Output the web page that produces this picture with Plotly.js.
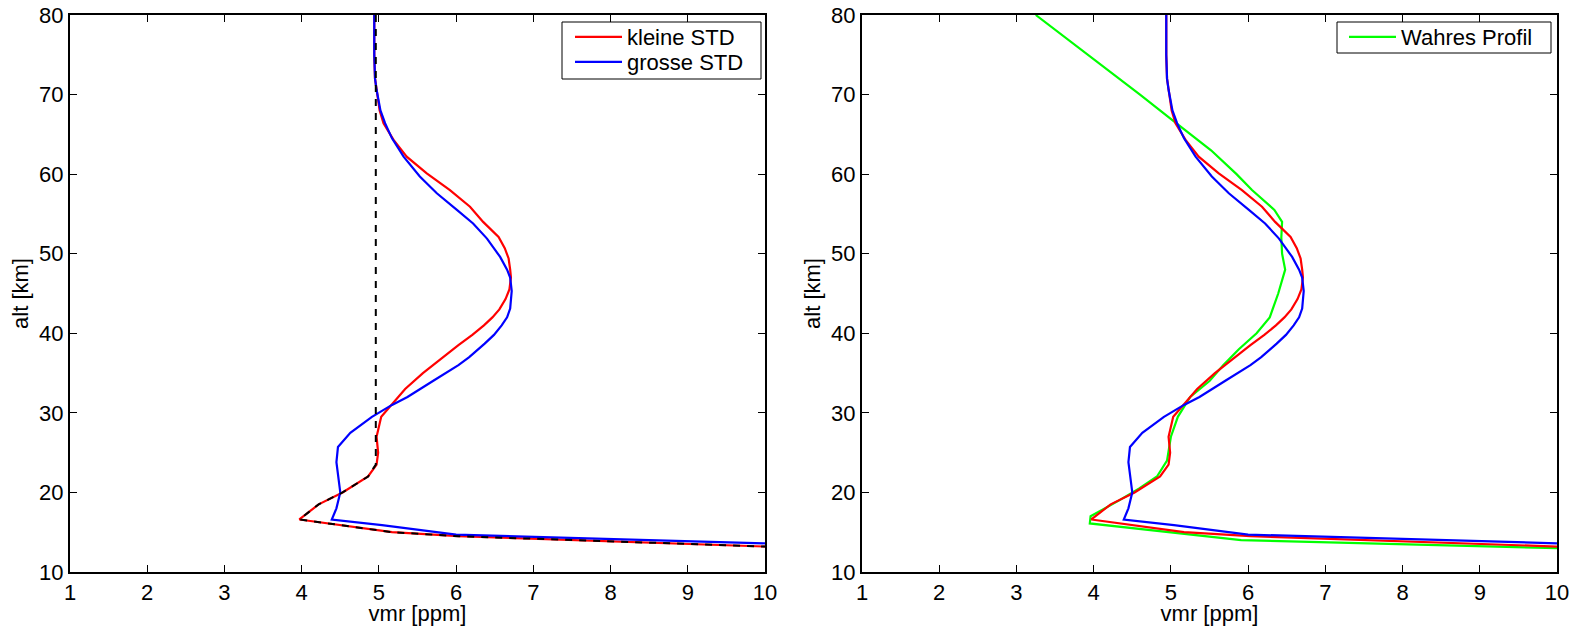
<!DOCTYPE html>
<html>
<head>
<meta charset="utf-8">
<script src="https://cdn.plot.ly/plotly-3.0.1.min.js"></script>
<style>html,body{margin:0;padding:0;background:#fff;}#chart{width:1583px;height:626px;}</style>
</head>
<body>
<div id="chart"></div>
<script>
// A priori profile (dashed black, left panel)
const aprioriAlt = [80, 23.5, 22, 20, 18.5, 16.6, 15, 14.5, 13.2];
const aprioriVmr = [4.96, 4.96, 4.86, 4.53, 4.22, 3.97, 5.17, 6.03, 10];

// kleine STD (red)
const kleineAlt = [80, 75, 72, 70.6, 68, 66.4, 64.3, 62.2, 60.1, 58, 55.9, 54, 52.1, 50.7, 49.4, 48, 47, 45.5, 44.3, 43, 42, 41, 39.8, 38.5, 37, 35, 33, 31, 29.5, 27, 25, 23.5, 22, 20, 18.5, 16.6, 15, 14.5, 13.2];
const kleineVmr = [4.94, 4.94, 4.95, 4.97, 5.01, 5.06, 5.19, 5.36, 5.62, 5.92, 6.18, 6.35, 6.55, 6.63, 6.68, 6.70, 6.71, 6.69, 6.64, 6.56, 6.47, 6.36, 6.21, 6.03, 5.83, 5.57, 5.34, 5.17, 5.03, 4.97, 4.99, 4.97, 4.86, 4.53, 4.22, 3.97, 5.17, 6.03, 10];

// grosse STD (blue)
const grosseAlt = [80, 75, 72, 70.6, 68, 66.4, 64.5, 62.2, 59.7, 57.6, 55.5, 53.8, 51.9, 49.6, 48, 47, 45.3, 43.1, 42, 41, 39.8, 38.7, 37, 36, 34, 32, 31, 29.5, 27.5, 25.7, 23.8, 21.5, 20, 18, 16.6, 15.9, 14.7, 13.6];
const grosseVmr = [4.94, 4.94, 4.95, 4.97, 5.02, 5.08, 5.17, 5.32, 5.53, 5.75, 6.01, 6.22, 6.40, 6.57, 6.66, 6.70, 6.72, 6.70, 6.66, 6.59, 6.49, 6.37, 6.17, 6.03, 5.70, 5.37, 5.17, 4.91, 4.63, 4.47, 4.45, 4.48, 4.50, 4.45, 4.39, 5.04, 6.0, 10];

// Wahres Profil (green, right panel)
const wahresAlt = [80, 75, 72, 70, 67, 65, 63, 60, 58, 55.5, 54, 52, 50, 48, 45, 42, 40, 38, 36, 34, 32, 29.5, 27, 24, 22, 20.5, 19, 17, 16.1, 14.0, 13.0];
const wahresVmr = [3.25, 3.93, 4.33, 4.60, 4.99, 5.25, 5.52, 5.85, 6.05, 6.34, 6.44, 6.43, 6.44, 6.48, 6.39, 6.28, 6.11, 5.88, 5.68, 5.50, 5.25, 5.09, 5.00, 4.95, 4.82, 4.59, 4.33, 3.96, 3.95, 5.91, 10];

const xTicks = [1, 2, 3, 4, 5, 6, 7, 8, 9, 10];
const yTicks = [10, 20, 30, 40, 50, 60, 70, 80];
const xTitle = 'vmr [ppm]';
const yTitle = 'alt [km]';
const legendLabels = ['kleine STD', 'grosse STD', 'Wahres Profil'];

const FONT = 'Liberation Sans, Arial, Helvetica, sans-serif';
const FS = 22;
const W = 1583, H = 626;
const lw = 2.2;

const traces = [
  {x: kleineVmr, y: kleineAlt, xaxis: 'x', yaxis: 'y', mode: 'lines', name: legendLabels[0], line: {color: '#ff0000', width: lw}, legend: 'legend'},
  {x: grosseVmr, y: grosseAlt, xaxis: 'x', yaxis: 'y', mode: 'lines', name: legendLabels[1], line: {color: '#0000ff', width: lw}, legend: 'legend3'},
  {x: aprioriVmr, y: aprioriAlt, xaxis: 'x', yaxis: 'y', mode: 'lines', line: {color: '#000', width: 2, dash: '7px,7px'}, showlegend: false},
  {x: wahresVmr, y: wahresAlt, xaxis: 'x2', yaxis: 'y2', mode: 'lines', name: legendLabels[2], line: {color: '#00ff00', width: lw}, legend: 'legend2'},
  {x: kleineVmr, y: kleineAlt, xaxis: 'x2', yaxis: 'y2', mode: 'lines', line: {color: '#ff0000', width: lw}, showlegend: false},
  {x: grosseVmr, y: grosseAlt, xaxis: 'x2', yaxis: 'y2', mode: 'lines', line: {color: '#0000ff', width: lw}, showlegend: false}
];

function xax(domain, anchor) {
  return {
    domain: domain, anchor: anchor, range: [1, 10], tickvals: xTicks, ticktext: xTicks.map(String),
    showline: true, linecolor: '#000', linewidth: 2, mirror: 'ticks', ticks: 'inside', ticklen: 7, tickwidth: 1.2, tickcolor: '#000',
    showgrid: false, zeroline: false, tickfont: {family: FONT, size: FS, color: '#000'},
    title: {text: xTitle, font: {family: FONT, size: FS, color: '#000'}, standoff: 0}
  };
}
function yax(domain, anchor) {
  return {
    domain: domain, anchor: anchor, range: [10, 80], tickvals: yTicks, ticktext: yTicks.map(String),
    showline: true, linecolor: '#000', linewidth: 2, mirror: 'ticks', ticks: 'inside', ticklen: 7, tickwidth: 1.2, tickcolor: '#000',
    showgrid: false, zeroline: false, tickfont: {family: FONT, size: FS, color: '#000'},
    title: {text: yTitle, font: {family: FONT, size: FS, color: '#000'}, standoff: 4}
  };
}

function legendAt(leftPx, centerPx) {
  return {x: leftPx / W, y: 1 - centerPx / H, xanchor: 'left', yanchor: 'middle', bgcolor: 'rgba(0,0,0,0)', borderwidth: 0,
          font: {family: FONT, size: FS, color: '#000'}, itemwidth: 47};
}
function boxPx(x0, x1, y0, y1) {
  return {type: 'rect', xref: 'paper', yref: 'paper', x0: x0 / W, x1: x1 / W, y0: 1 - y1 / H, y1: 1 - y0 / H,
          fillcolor: '#fff', line: {color: '#000', width: 1}, layer: 'above'};
}

const yDom = [1 - 572 / H, 1 - 15 / H];
const layout = {
  width: W, height: H,
  margin: {l: 0, r: 0, t: 0, b: 0},
  paper_bgcolor: '#fff', plot_bgcolor: '#fff',
  font: {family: FONT, size: FS, color: '#000'},
  xaxis: xax([70 / W, 765 / W], 'y'),
  yaxis: yax(yDom, 'x'),
  xaxis2: xax([862 / W, 1557 / W], 'y2'),
  yaxis2: yax(yDom, 'x2'),
  legend: legendAt(570, 37),
  legend3: legendAt(570, 62),
  legend2: legendAt(1344, 37),
  shapes: [boxPx(562, 761, 22, 79), boxPx(1337, 1551, 22, 53)],
  showlegend: true
};

Plotly.newPlot('chart', traces, layout, {displayModeBar: false, staticPlot: true});
</script>
</body>
</html>
